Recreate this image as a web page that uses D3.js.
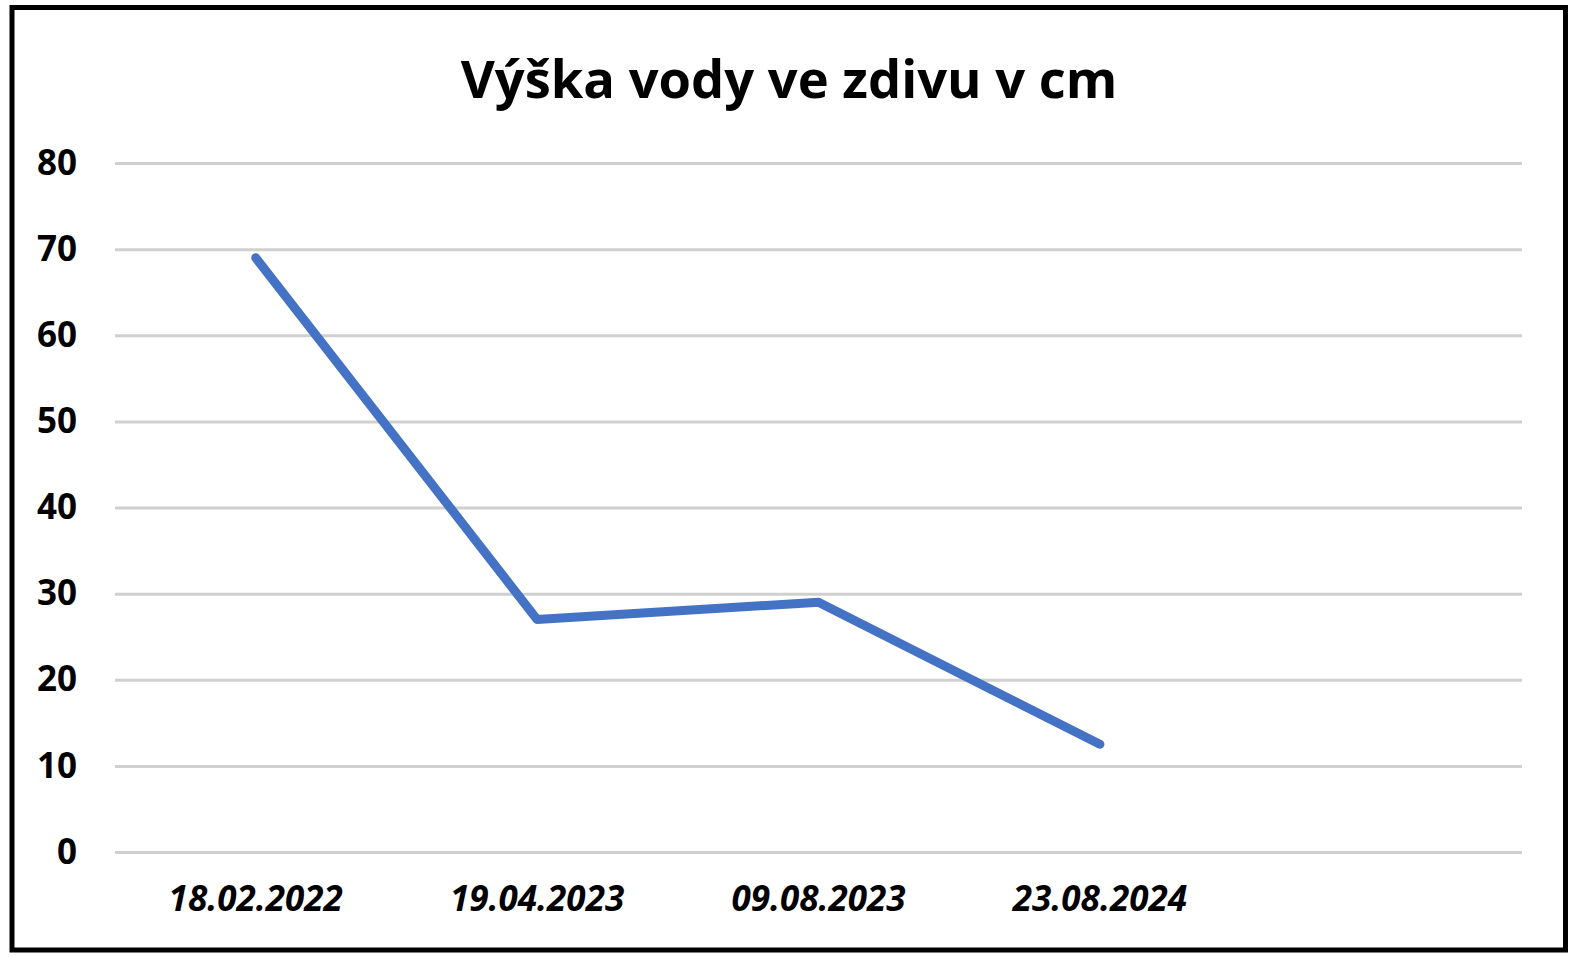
<!DOCTYPE html>
<meta charset="utf-8">
<script src="https://d3js.org/d3.v7.min.js"></script>
<style>
    body { margin: 0; background: #fff; }
    text { font-family: "Open Sans", sans-serif; font-weight: bold; fill: #000; }
</style>
<div id="base"></div>
<script>
    // data
    var dates = ["18.02.2022", "19.04.2023", "09.08.2023", "23.08.2024", ""];
    var heights = [69, 27, 29, 12.5];
    var yTicks = [0, 10, 20, 30, 40, 50, 60, 70, 80];
    var title = "Výška vody ve zdivu v cm";

    var W = 1575, H = 957;
    var plotLeft = 115, plotRight = 1522, plotTop = 163, plotBottom = 852;

    var svg = d3.select("#base")
        .append("svg")
        .attr("width", W)
        .attr("height", H);

    // outer frame
    svg.append("rect")
        .attr("x", 12).attr("y", 7.5)
        .attr("width", 1553.5).attr("height", 942.5)
        .attr("fill", "none")
        .attr("stroke", "#000")
        .attr("stroke-width", 5);

    svg.append("text")
        .attr("x", 789)
        .attr("y", 98)
        .attr("text-anchor", "middle")
        .attr("font-size", "52.5px")
        .text(title);

    var x = d3.scaleBand()
        .domain(dates)
        .range([plotLeft, plotRight])
        .padding(0);

    var y = d3.scaleLinear()
        .domain([0, 80])
        .range([plotBottom, plotTop]);

    // gridlines + y labels
    var yAxis = svg.append("g")
        .attr("transform", "translate(" + plotLeft + ",0)")
        .call(d3.axisLeft(y).tickValues(yTicks).tickSize(-(plotRight - plotLeft)).tickPadding(38));
    yAxis.select(".domain").remove();
    yAxis.selectAll("line").attr("stroke", "#d0d0d0").attr("stroke-width", 3);
    yAxis.selectAll("text")
        .attr("font-size", "35px")
        .style("font-family", "'Open Sans', sans-serif")
        .style("font-weight", "bold")
        .attr("fill", "#000");

    // x labels
    var xAxis = svg.append("g")
        .attr("transform", "translate(0," + plotBottom + ")")
        .call(d3.axisBottom(x).tickSize(0).tickPadding(34));
    xAxis.select(".domain").remove();
    xAxis.selectAll("text")
        .attr("font-size", "35px")
        .style("font-family", "'Open Sans', sans-serif")
        .style("font-weight", "bold")
        .style("font-style", "italic")
        .attr("fill", "#000");

    var line = d3.line()
        .x(function (d, i) { return x(dates[i]) + x.bandwidth() / 2; })
        .y(function (d) { return y(d); });

    svg.append("path")
        .datum(heights)
        .attr("d", line)
        .attr("fill", "none")
        .attr("stroke", "#4472C4")
        .attr("stroke-width", 9)
        .attr("stroke-linecap", "round")
        .attr("stroke-linejoin", "round");
</script>
